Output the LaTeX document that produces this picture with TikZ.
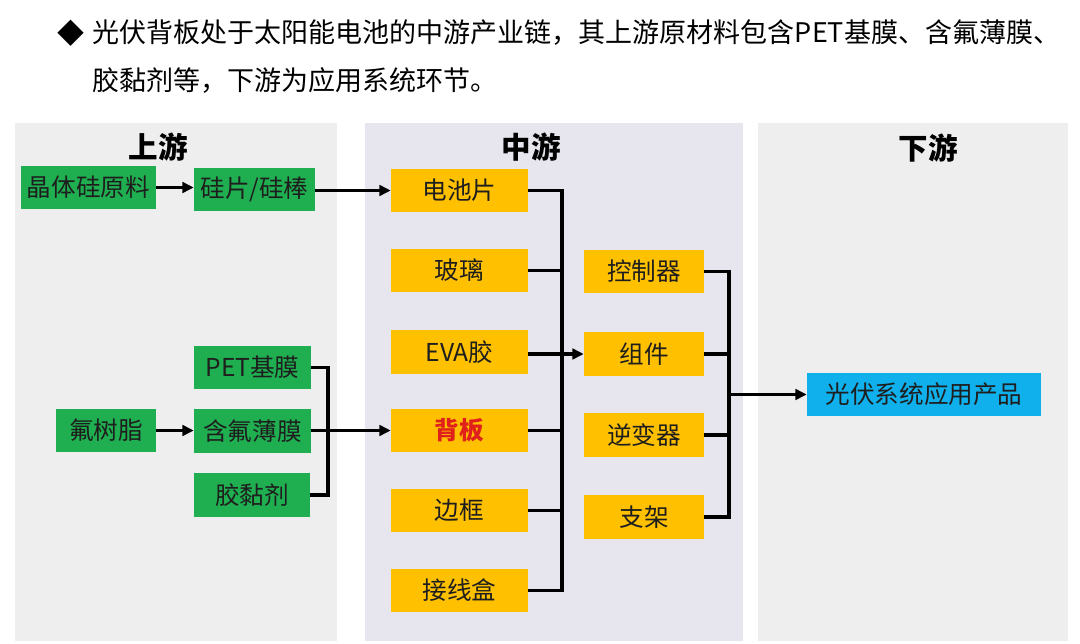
\documentclass[tikz,border=0pt]{standalone}
\usepackage{fontspec}
\setmainfont{Noto Sans CJK SC}
\usetikzlibrary{arrows.meta, positioning, calc}

\definecolor{pvgreen}{HTML}{1FAF50}
\definecolor{pvyellow}{HTML}{FFC000}
\definecolor{pvblue}{HTML}{0FB0EC}
\definecolor{pvred}{HTML}{E0201B}
\definecolor{panelgray}{HTML}{EEEEEE}
\definecolor{panelmid}{HTML}{E7E6EF}
\definecolor{boxtext}{HTML}{1E1E1E}

\newcommand{\boxfont}{\fontsize{17.5pt}{20pt}\selectfont}
\newcommand{\stagefont}{\fontsize{21pt}{24pt}\selectfont\bfseries}
\newcommand{\leadfont}{\fontsize{19.2pt}{23pt}\selectfont}

\tikzset{
  pvbox/.style={minimum height=1.075cm, inner sep=0pt, font=\boxfont,
    text=boxtext},
  upbox/.style={pvbox, fill=pvgreen},
  midbox/.style={pvbox, fill=pvyellow},
  downbox/.style={pvbox, fill=pvblue},
  stagetitle/.style={font=\stagefont},
  link/.style={line width=2.2pt},
  flow/.style={link, -{Triangle[length=8pt, width=7.5pt]}}
}

\begin{document}
\begin{tikzpicture}[x=0.025cm, y=-0.025cm]
  \useasboundingbox (0,0) rectangle (1080,644);

  %% lead text
  \node[font=\leadfont] (bullet) at (71,33) {◆};
  \node[font=\leadfont, anchor=west] (lead1) at (88,33)
    {光伏背板处于太阳能电池的中游产业链，其上游原材料包含PET基膜、含氟薄膜、};
  \node[font=\leadfont, anchor=west] (lead2) at (88,80)
    {胶黏剂等，下游为应用系统环节。};

  %% stage panels
  \fill[panelgray] (15,123) rectangle (337,641);
  \fill[panelmid] (365,123) rectangle (743,641);
  \fill[panelgray] (758,123) rectangle (1068,641);
  \node[stagetitle] (uptitle) at (158,147) {上游};
  \node[stagetitle] (midtitle) at (531,147) {中游};
  \node[stagetitle] (downtitle) at (928,148) {下游};

  %% upstream
  \node[upbox, minimum width=3.375cm] (crystal) at (88.5,187.5) {晶体硅原料};
  \node[upbox, minimum width=3.025cm] (wafer) at (254.5,189.5) {硅片/硅棒};
  \node[upbox, minimum width=2.925cm] (petfilm) at (252.5,367.5) {PET基膜};
  \node[upbox, minimum width=2.925cm] (fluofilm) at (252.5,431) {含氟薄膜};
  \node[upbox, minimum width=2.9cm] (adhesive) at (252,495) {胶黏剂};
  \node[upbox, minimum width=2.5cm] (resin) at (106,430.5) {氟树脂};

  %% midstream, materials
  \node[midbox, minimum width=3.425cm] (cell) at (459.5,190.5) {电池片};
  \node[midbox, minimum width=3.425cm] (glass) at (459.5,270.5) {玻璃};
  \node[midbox, minimum width=3.425cm] (eva) at (459.5,352) {EVA胶};
  \node[midbox, minimum width=3.425cm, font=\boxfont\bfseries, text=pvred]
    (backsheet) at (459.5,430.5) {背板};
  \node[midbox, minimum width=3.425cm] (frame) at (459.5,510.5) {边框};
  \node[midbox, minimum width=3.425cm] (jbox) at (459.5,590.5) {接线盒};

  %% midstream, system parts
  \node[midbox, minimum width=3cm] (ctrl) at (644,271.5) {控制器};
  \node[midbox, minimum width=3cm] (module) at (644,354) {组件};
  \node[midbox, minimum width=3cm] (inverter) at (644,435) {逆变器};
  \node[midbox, minimum width=3cm] (mount) at (644,517) {支架};

  %% downstream
  \node[downbox, minimum width=5.85cm] (pvapp) at (924,394.5) {光伏系统应用产品};

  %% connectors
  \coordinate (lbar) at (328,0);
  \coordinate (mbar) at (562,0);
  \coordinate (rbar) at (729,0);

  \draw[flow] (crystal.east) -- (wafer.west |- crystal.east);
  \draw[flow] (wafer.east |- cell.west) -- (cell.west);
  \draw[flow] (resin.east) -- (fluofilm.west |- resin.east);
  \draw[link] (petfilm.east) -- (petfilm.east -| lbar)
    -- (adhesive.east -| lbar) -- (adhesive.east);
  \draw[flow] (fluofilm.east |- backsheet.west) -- (backsheet.west);

  \draw[link] (cell.east) -- (cell.east -| mbar)
    -- (jbox.east -| mbar) -- (jbox.east);
  \foreach \part in {glass, backsheet, frame}
    \draw[link] (\part.east) -- (\part.east -| mbar);
  \draw[flow] (eva.east |- module.west) -- (module.west);

  \draw[link] (ctrl.east) -- (ctrl.east -| rbar)
    -- (mount.east -| rbar) -- (mount.east);
  \foreach \part in {module, inverter}
    \draw[link] (\part.east) -- (\part.east -| rbar);
  \draw[flow] (rbar |- pvapp.west) -- (pvapp.west);
\end{tikzpicture}
\end{document}
